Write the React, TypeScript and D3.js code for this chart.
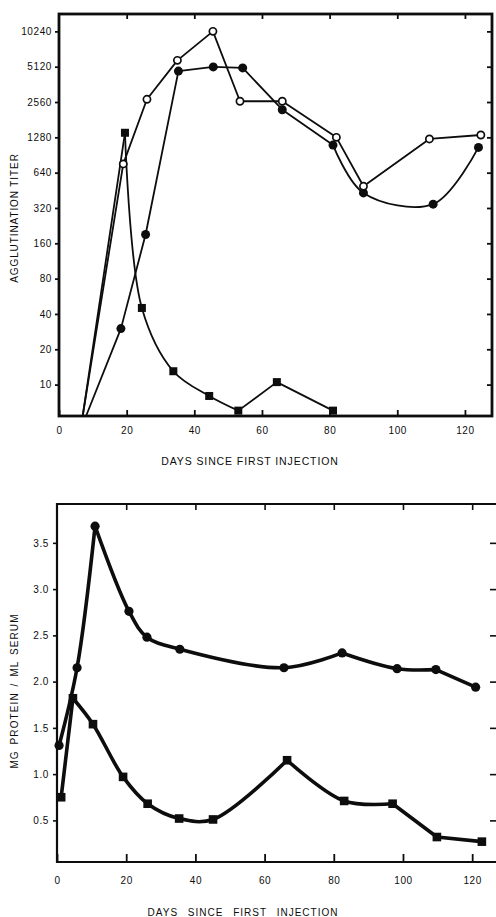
import React, {useEffect, useRef} from 'react';
import * as d3 from 'd3';

// ---- top panel: agglutination titer (0 = negative, drawn on the baseline)
const titerTicks = [10, 20, 40, 80, 160, 320, 640, 1280, 2560, 5120, 10240];
const dayTicks = [0, 20, 40, 60, 80, 100, 120];

const openDays = [7, 19, 26, 35, 45.5, 53.5, 66, 82, 90, 109.5, 124.7];
const openTiter = [0, 760, 2700, 5800, 10240, 2600, 2600, 1280, 490, 1240, 1340];

const filledDays = [8, 18.3, 25.6, 35.3, 45.6, 54.3, 66, 81, 90, 110.6, 124];
const filledTiter = [0, 30, 190, 4700, 5100, 5000, 2200, 1100, 430, 345, 1050];

const squareDays = [7, 19.5, 24.5, 33.8, 44.4, 53, 64.4, 81];
const squareTiter = [0, 1400, 45, 13, 8, 6, 10.5, 6];

// ---- bottom panel: mg protein / ml serum
const proteinTicks = [0.5, 1, 1.5, 2, 2.5, 3, 3.5];

const upperDays = [0.6, 5.8, 11, 20.8, 26, 35.5, 65.6, 82.4, 98.3, 109.5, 121];
const upperProtein = [1.31, 2.15, 3.68, 2.76, 2.48, 2.35, 2.15, 2.31, 2.14, 2.13, 1.94];

const lowerDays = [1.2, 4.6, 10.4, 19.1, 26.2, 35.3, 45.1, 66.5, 83, 97, 109.8, 122.8];
const lowerProtein = [0.75, 1.82, 1.54, 0.97, 0.68, 0.52, 0.51, 1.15, 0.71, 0.68, 0.32, 0.27];

// indices where the hand drawn line has a corner; smooth in between
const openCorners = [0, 1, 2, 3, 4, 5, 6, 7, 8, 9, 10];
const filledCorners = [0, 1, 2, 3, 4, 5, 6, 7, 10];
const squareCorners = [0, 1, 5, 6, 7];
const upperCorners = [0, 2, 7, 9, 10];
const lowerCorners = [0, 1, 7, 9, 10, 11];

const INK = '#0d0d0d';
const FONT = 'Liberation Sans, Arial, sans-serif';

function pieces(corners: number[]) {
    return corners.slice(1).map((c, i) => d3.range(corners[i], c + 1));
}

function drawLine(g: any, pts: [number, number][], corners: number[], width: number) {
    pieces(corners).forEach((idx) => {
        const line = d3.line()
            .curve(idx.length > 2 ? d3.curveCatmullRom.alpha(0.5) : d3.curveLinear);
        g.append('path')
            .attr('d', line(idx.map((i) => pts[i])))
            .attr('fill', 'none')
            .attr('stroke', INK)
            .attr('stroke-width', width)
            .attr('stroke-linejoin', 'round')
            .attr('stroke-linecap', 'round');
    });
}

function styleAxis(a: any, lineWidth: number) {
    a.select('.domain').remove();
    a.selectAll('line').attr('stroke', INK).attr('stroke-width', lineWidth);
    a.selectAll('text')
        .attr('fill', INK)
        .attr('font-family', FONT)
        .attr('font-size', 10)
        .attr('letter-spacing', 0.6);
}

function drawTiter(g: any) {
    const left = 59, right = 492, top = 14, bottom = 416;
    const x = d3.scaleLinear().domain([0, 128]).range([left, right]);
    const yLog = d3.scaleLog().base(2).domain([5.4, 14400]).range([bottom, top]);
    const y = (v: number) => yLog(Math.max(v, 5.4));

    // ticks
    styleAxis(g.append('g').attr('transform', `translate(${left},0)`)
        .call(d3.axisLeft(yLog).tickValues(titerTicks).tickSize(4).tickPadding(3)
            .tickFormat((d: any) => String(d))), 1.8);
    styleAxis(g.append('g').attr('transform', `translate(${right},0)`)
        .call(d3.axisLeft(yLog).tickValues(titerTicks).tickSize(5).tickFormat(() => '')), 1.8);
    styleAxis(g.append('g').attr('transform', `translate(0,${bottom})`)
        .call(d3.axisBottom(x).tickValues(dayTicks).tickSize(-6).tickPadding(10.5)), 1.8);
    styleAxis(g.append('g').attr('transform', `translate(0,${top})`)
        .call(d3.axisBottom(x).tickValues(dayTicks.slice(1)).tickSize(5).tickFormat(() => '')), 1.8);

    g.append('rect')
        .attr('x', left).attr('y', top)
        .attr('width', right - left).attr('height', bottom - top)
        .attr('fill', 'none').attr('stroke', INK).attr('stroke-width', 2.8);

    const openPts = openDays.map((d, i) => [x(d), y(openTiter[i])] as [number, number]);
    const filledPts = filledDays.map((d, i) => [x(d), y(filledTiter[i])] as [number, number]);
    const squarePts = squareDays.map((d, i) => [x(d), y(squareTiter[i])] as [number, number]);

    drawLine(g, squarePts, squareCorners, 1.8);
    drawLine(g, filledPts, filledCorners, 1.8);
    drawLine(g, openPts, openCorners, 1.8);

    g.selectAll('.sq').data(squarePts.filter((p, i) => squareTiter[i] > 0)).enter()
        .append('rect')
        .attr('x', (p: any) => p[0] - 4).attr('y', (p: any) => p[1] - 4)
        .attr('width', 8).attr('height', 8)
        .attr('fill', INK);
    g.selectAll('.fc').data(filledPts.filter((p, i) => filledTiter[i] > 0)).enter()
        .append('circle')
        .attr('cx', (p: any) => p[0]).attr('cy', (p: any) => p[1])
        .attr('r', 4.5).attr('fill', INK);
    g.selectAll('.oc').data(openPts.filter((p, i) => openTiter[i] > 0)).enter()
        .append('circle')
        .attr('cx', (p: any) => p[0]).attr('cy', (p: any) => p[1])
        .attr('r', 3.6).attr('fill', '#fff')
        .attr('stroke', INK).attr('stroke-width', 1.7);

    g.append('text')
        .attr('transform', 'translate(18,218) rotate(-90)')
        .attr('text-anchor', 'middle')
        .attr('font-family', FONT).attr('font-size', 10)
        .attr('letter-spacing', 0.9).attr('fill', INK)
        .text('AGGLUTINATION TITER');
    g.append('text')
        .attr('x', 250).attr('y', 465)
        .attr('text-anchor', 'middle')
        .attr('font-family', FONT).attr('font-size', 10.5)
        .attr('letter-spacing', 0.9).attr('fill', INK)
        .text('DAYS SINCE FIRST INJECTION');
}

function drawProtein(g: any) {
    const left = 57, right = 496, top = 504, bottom = 862;
    const x = d3.scaleLinear().domain([0, 127]).range([left, 496.4]);
    const y = d3.scaleLinear().domain([0.05, 3.92]).range([bottom, top]);

    styleAxis(g.append('g').attr('transform', `translate(${left},0)`)
        .call(d3.axisLeft(y).tickValues(proteinTicks).tickSize(4).tickPadding(4)
            .tickFormat((d: any) => d3.format('.1f')(d))), 1.6);
    styleAxis(g.append('g').attr('transform', `translate(${right},0)`)
        .call(d3.axisLeft(y).tickValues(proteinTicks).tickSize(6).tickFormat(() => '')), 1.6);
    styleAxis(g.append('g').attr('transform', `translate(0,${bottom})`)
        .call(d3.axisBottom(x).tickValues(dayTicks).tickSize(-8).tickPadding(14.5)), 1.8);
    styleAxis(g.append('g').attr('transform', `translate(0,${top})`)
        .call(d3.axisBottom(x).tickValues(dayTicks.slice(1)).tickSize(6).tickFormat(() => '')), 1.6);

    // frame: the right edge falls just off the page
    g.append('path')
        .attr('d', `M${right},${top}H${left}V${bottom}H${right}`)
        .attr('fill', 'none').attr('stroke', INK).attr('stroke-width', 2.2);

    const upperPts = upperDays.map((d, i) => [x(d), y(upperProtein[i])] as [number, number]);
    const lowerPts = lowerDays.map((d, i) => [x(d), y(lowerProtein[i])] as [number, number]);

    drawLine(g, upperPts, upperCorners, 3.6);
    drawLine(g, lowerPts, lowerCorners, 3.6);

    g.selectAll('.uc').data(upperPts).enter()
        .append('circle')
        .attr('cx', (p: any) => p[0]).attr('cy', (p: any) => p[1])
        .attr('r', 4.6).attr('fill', INK);
    g.selectAll('.ls').data(lowerPts).enter()
        .append('rect')
        .attr('x', (p: any) => p[0] - 4.3).attr('y', (p: any) => p[1] - 4.3)
        .attr('width', 8.6).attr('height', 8.6)
        .attr('fill', INK);

    g.append('text')
        .attr('transform', 'translate(18,691) rotate(-90)')
        .attr('text-anchor', 'middle')
        .attr('font-family', FONT).attr('font-size', 10)
        .attr('letter-spacing', 1.1).attr('word-spacing', 2).attr('fill', INK)
        .text('MG PROTEIN / ML SERUM');
    g.append('text')
        .attr('x', 243).attr('y', 916)
        .attr('text-anchor', 'middle')
        .attr('font-family', FONT).attr('font-size', 10)
        .attr('letter-spacing', 1).attr('word-spacing', 6).attr('fill', INK)
        .text('DAYS SINCE FIRST INJECTION');
}

export default function App() {
    const ref = useRef<SVGSVGElement>(null);

    useEffect(() => {
        const svg = d3.select(ref.current);
        svg.selectAll('*').remove();
        drawTiter(svg.append('g'));
        drawProtein(svg.append('g'));
    }, []);

    return (
        <svg
            ref={ref}
            width={496}
            height={917}
            style={{position: 'absolute', left: 0, top: 0, background: '#fff'}}
        />
    );
}
